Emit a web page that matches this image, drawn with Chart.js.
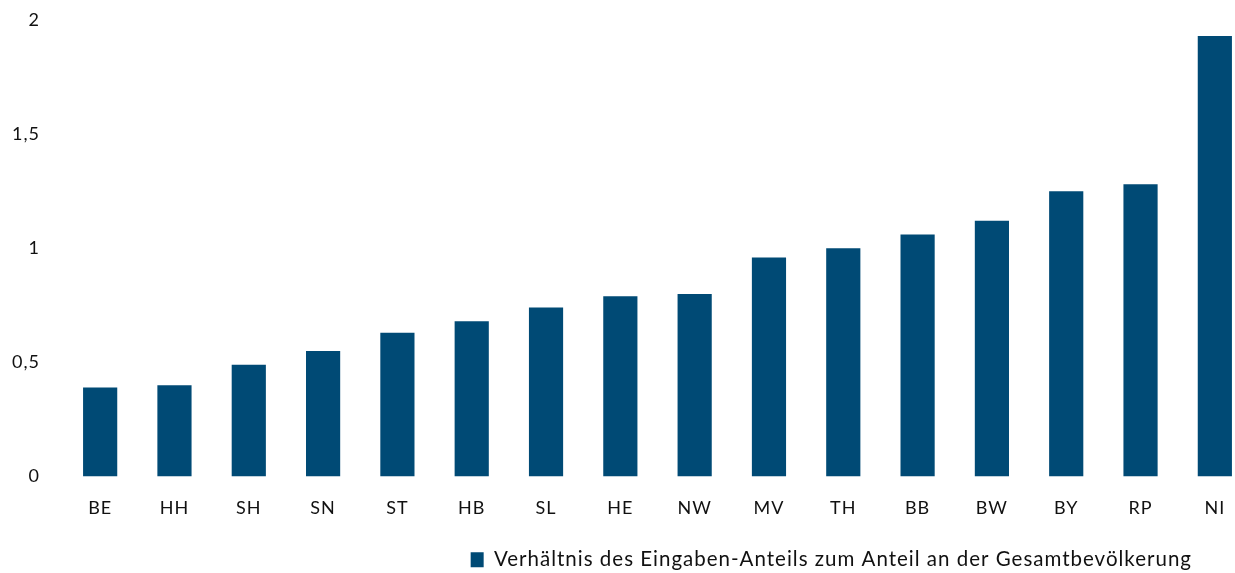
<!DOCTYPE html>
<html>
<head>
<meta charset="utf-8">
<script src="https://cdn.jsdelivr.net/npm/chart.js@4/dist/chart.umd.min.js"></script>
<style>
  html, body { margin: 0; padding: 0; background: #fff; overflow: hidden; }
  #wrap { position: relative; width: 1272px; height: 573px; }
</style>
</head>
<body>
<div id="wrap"><canvas id="c"></canvas></div>
<script>
const categories = ['BE','HH','SH','SN','ST','HB','SL','HE','NW','MV','TH','BB','BW','BY','RP','NI'];
const ratioValues = [0.39, 0.40, 0.49, 0.55, 0.63, 0.68, 0.74, 0.79, 0.80, 0.96, 1.00, 1.06, 1.12, 1.25, 1.28, 1.93];
const seriesName = 'Verhältnis des Eingaben-Anteils zum Anteil an der Gesamtbevölkerung';
const yTickValues = [0, 0.5, 1, 1.5, 2];
const yTickLabels = ['0', '0,5', '1', '1,5', '2'];

const FONT = 'Lato, "Open Sans", sans-serif';
const BAR = '#004A75';
const TEXT = '#111111';

const spacing = {
  id: 'spacing',
  beforeUpdate(chart) { chart.ctx.letterSpacing = '1px'; },
  beforeDraw(chart) { chart.ctx.letterSpacing = '1px'; },
  afterLayout(chart) {
    const lg = chart.legend;
    if (!lg) return;
    const dx = -50, dy = 7;
    lg.left += dx; lg.right += dx;
    lg.top += dy; lg.bottom += dy;
  }
};

new Chart(document.getElementById('c'), {
  type: 'bar',
  data: {
    labels: categories,
    datasets: [{
      label: seriesName,
      data: ratioValues,
      backgroundColor: BAR,
      borderWidth: 0,
      barPercentage: 0.46,
      categoryPercentage: 1.0
    }]
  },
  options: {
    responsive: true,
    maintainAspectRatio: false,
    animation: false,
    layout: { padding: { top: 20, right: 20, bottom: 0, left: 0 } },
    plugins: {
      tooltip: { enabled: false },
      legend: {
        position: 'bottom',
        align: 'end',
        labels: {
          font: { family: FONT, size: 20.5 },
          color: TEXT,
          boxWidth: 13,
          boxHeight: 15,
          padding: 10
        }
      }
    },
    scales: {
      x: {
        grid: { display: false, drawTicks: false },
        border: { display: false },
        ticks: {
          color: TEXT,
          font: { family: FONT, size: 18 },
          padding: 21,
          maxRotation: 0,
          autoSkip: false
        },
        afterFit(s) { s.height = 56; }
      },
      y: {
        min: 0,
        max: 2,
        grid: { display: false, drawTicks: false },
        border: { display: false },
        afterBuildTicks(s) { s.ticks = yTickValues.map(v => ({ value: v })); },
        ticks: {
          color: TEXT,
          font: { family: FONT, size: 18 },
          padding: 23,
          callback: (v, i) => yTickLabels[i]
        },
        afterFit(s) { s.width = 63; s.paddingTop = 0; s.paddingBottom = 0; }
      }
    }
  },
  plugins: [spacing]
});
</script>
</body>
</html>
